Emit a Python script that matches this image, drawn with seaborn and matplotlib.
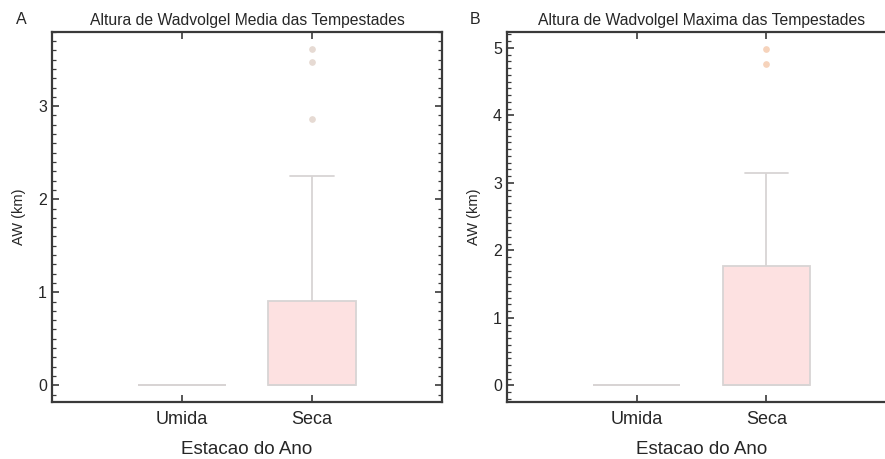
import matplotlib
matplotlib.use("Agg")
import matplotlib.pyplot as plt
import numpy as np
import pandas as pd
import seaborn as sns
from matplotlib.ticker import MultipleLocator

# Seasons on the x axis
seasons = ["Umida", "Seca"]

# Mean Wadvogel height of storms (km) per season
media_umida = [0.0, 0.0, 0.0, 0.0, 0.0, 0.0, 0.0, 0.0, 0.0, 0.0, 0.0, 0.0]
media_seca = [0.0, 0.0, 0.0, 0.0, 0.0, 0.0, 0.0, 0.0, 0.0, 0.0, 0.0,
              0.25, 0.48, 0.70, 0.91, 0.91, 2.25, 2.86, 3.47, 3.61]

# Maximum Wadvogel height of storms (km) per season
maxima_umida = [0.0, 0.0, 0.0, 0.0, 0.0, 0.0, 0.0, 0.0, 0.0, 0.0, 0.0, 0.0]
maxima_seca = [0.0, 0.0, 0.0, 0.0, 0.0, 0.0, 0.0, 0.0, 0.0, 0.0, 0.0,
               0.45, 0.95, 1.40, 1.77, 1.77, 2.40, 3.15, 4.76, 4.98]

titles = ["Altura de Wadvolgel Media das Tempestades",
          "Altura de Wadvolgel Maxima das Tempestades"]
panel_letters = ["A", "B"]
y_major = [[0, 1, 2, 3], [0, 1, 2, 3, 4, 5]]
y_limits = [(-0.176, 3.80), (-0.24, 5.24)]


def frame(values_umida, values_seca):
    return pd.DataFrame({
        "estacao": [seasons[0]] * len(values_umida) + [seasons[1]] * len(values_seca),
        "aw": list(values_umida) + list(values_seca),
    })


frames = [frame(media_umida, media_seca), frame(maxima_umida, maxima_seca)]

sns.set_theme(style="white")
plt.rcParams["font.family"] = ["Liberation Sans", "DejaVu Sans"]

W, H = 885, 459
fig = plt.figure(figsize=(W / 100, H / 100), dpi=100)
fig.patch.set_facecolor("white")

bottom_px, top_px = 401.7, 31.7
axes_px = [(52, 442), (507, 896)]
letter_px = [(21, 20), (475, 20)]
flier_colors = ["#e6dad3", "#f6d3bb"]

box_face = "#fde1e1"
line_col = "#d8d4d4"
frame_col = "#3a3a3a"
text_col = "#262626"

for i, df in enumerate(frames):
    x0, x1 = axes_px[i]
    ax = fig.add_axes([x0 / W, (H - bottom_px) / H, (x1 - x0) / W, (bottom_px - top_px) / H])
    sns.boxplot(
        data=df, x="estacao", y="aw", hue="estacao", order=seasons,
        palette={s: box_face for s in seasons}, legend=False, saturation=1,
        width=0.67, linecolor=line_col, linewidth=1.3,
        flierprops=dict(marker="o", markersize=3.8,
                        markerfacecolor=flier_colors[i],
                        markeredgecolor=flier_colors[i]),
        ax=ax,
    )
    ax.set_xlim(-1, 2)
    ax.set_ylim(*y_limits[i])
    ax.set_yticks(y_major[i])
    ax.yaxis.set_minor_locator(MultipleLocator(0.1))

    for sp in ax.spines.values():
        sp.set_visible(True)
        sp.set_color(frame_col)
        sp.set_linewidth(1.6)

    ax.tick_params(axis="both", which="both", direction="in",
                   top=True, right=True, bottom=True, left=True,
                   color=frame_col)
    ax.tick_params(axis="both", which="major", length=5, width=1.2)
    ax.tick_params(axis="y", which="minor", length=3, width=0.9)
    ax.tick_params(axis="x", which="major", labelsize=13, pad=6.5, labelcolor=text_col)
    ax.tick_params(axis="y", which="major", labelsize=11.5, pad=3.6, labelcolor=text_col)

    ax.set_xlabel("Estacao do Ano", fontsize=13.5, color=text_col)
    ax.xaxis.set_label_coords(0.5, -0.106)
    ax.set_ylabel("AW (km)", fontsize=10.5, color=text_col)
    ax.yaxis.set_label_coords(-26 / (x1 - x0), 0.5)
    ax.set_title(titles[i], fontsize=11.3, pad=4.5, color=text_col)

    lx, ly = letter_px[i]
    fig.text(lx / W, 1 - ly / H, panel_letters[i], ha="center", va="center",
             fontsize=11.5, color=text_col)

fig.savefig("out.png", dpi=100, facecolor="white")
